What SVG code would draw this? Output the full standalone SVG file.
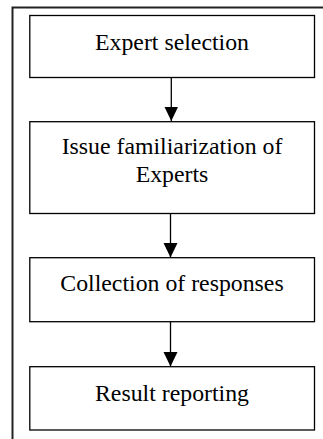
<svg xmlns="http://www.w3.org/2000/svg" width="323" height="439" viewBox="0 0 323 439">
<style>
.box{fill:#fff;stroke:#000;stroke-width:1.3}
.lbl{font-family:"Liberation Serif","Times New Roman",serif;font-size:23.8px;fill:#000;text-anchor:middle}
.conn{stroke:#000;stroke-width:1.3;fill:none}
</style>
<defs>
<marker id="arr" markerUnits="userSpaceOnUse" markerWidth="16" markerHeight="16" refX="14.5" refY="7" orient="auto">
<path d="M0,0 L14.5,7 L0,14 Z" fill="#000"/>
</marker>
</defs>
<rect width="323" height="439" fill="#fff"/>
<g id="frame">
<path d="M12.5,439 V7.5 H323" fill="none" stroke="#222" stroke-width="2"/>
</g>
<g id="connectors">
<line class="conn" x1="171.3" y1="77.5" x2="171.3" y2="121" marker-end="url(#arr)"/>
<line class="conn" x1="170.5" y1="213.5" x2="170.5" y2="257.5" marker-end="url(#arr)"/>
<line class="conn" x1="170.5" y1="322" x2="170.5" y2="366.5" marker-end="url(#arr)"/>
</g>
<g id="n1">
<rect class="box" x="29.8" y="15.5" width="284.7" height="62"/>
<text class="lbl" x="172" y="50">Expert selection</text>
</g>
<g id="n2">
<rect class="box" x="29.8" y="121.7" width="284.7" height="91.8"/>
<text class="lbl" x="172" y="154">Issue familiarization of</text>
<text class="lbl" x="172" y="181.7">Experts</text>
</g>
<g id="n3">
<rect class="box" x="29.8" y="257.7" width="284.7" height="64"/>
<text class="lbl" x="172" y="291">Collection of responses</text>
</g>
<g id="n4">
<rect class="box" x="29.8" y="366.7" width="284.7" height="63.3"/>
<text class="lbl" x="172" y="401">Result reporting</text>
</g>
</svg>
